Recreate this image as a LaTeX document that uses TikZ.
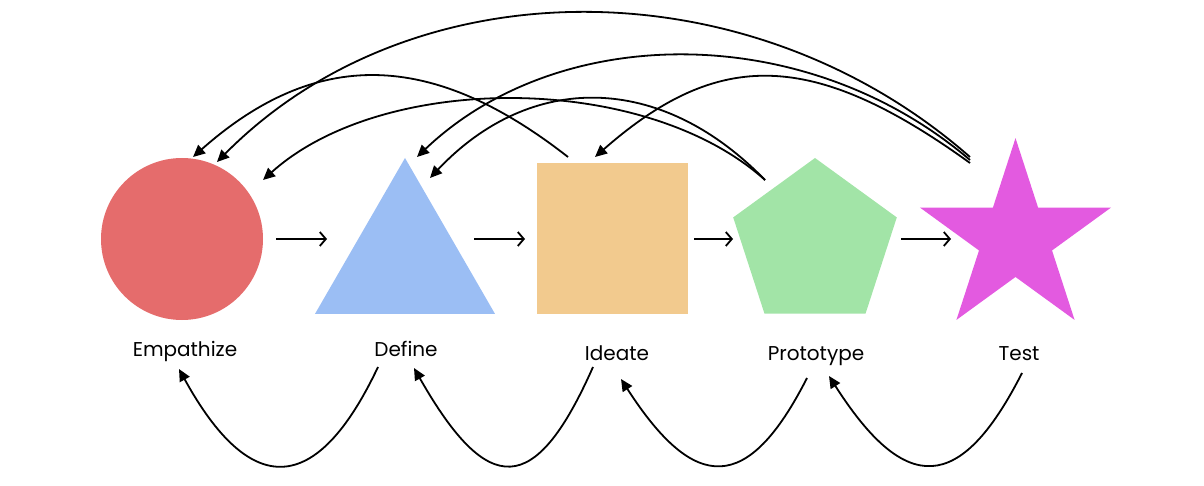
\documentclass[tikz,border=0pt]{standalone}
\usepackage{fontspec}
\setmainfont{Poppins}
\usetikzlibrary{arrows.meta,shapes.geometric}
\definecolor{cEmp}{HTML}{E56C6C}
\definecolor{cDef}{HTML}{9BBEF4}
\definecolor{cIde}{HTML}{F2CA8E}
\definecolor{cPro}{HTML}{A2E4A7}
\definecolor{cTst}{HTML}{E35AE0}
\begin{document}
\begin{tikzpicture}[x=1pt,y=-1pt,
  shapebox/.style={inner sep=0pt,outer sep=0pt,draw=none},
  lbl/.style={font=\fontsize{20}{24}\selectfont,anchor=base,inner sep=0pt},
  back/.style={line width=1.8pt,-{Triangle[length=12pt,width=11pt]}},
  fwd/.style={line width=1.8pt,-{Straight Barb[length=6pt,width=14pt]}}]
\useasboundingbox (0,0) rectangle (1204,486);
% shapes
\node[shapebox,circle,fill=cEmp,minimum size=162pt] (emp) at (182,239) {};
\node[shapebox,regular polygon,regular polygon sides=3,fill=cDef,minimum size=207.8pt] (def) at (405,261.9) {};
\node[shapebox,rectangle,fill=cIde,minimum width=151pt,minimum height=151pt] (ide) at (612.5,238.5) {};
\node[shapebox,regular polygon,regular polygon sides=5,fill=cPro,minimum size=172pt] (pro) at (815,244) {};
\node[shapebox,star,star points=5,star point ratio=2.618,fill=cTst,minimum size=201pt] (tst) at (1015.5,238.6) {};
% labels
\node[lbl] (lemp) at (185,356) {Empathize};
\node[lbl] (ldef) at (406,356) {Define};
\node[lbl] (lide) at (617,360) {Ideate};
\node[lbl] (lpro) at (816,360) {Prototype};
\node[lbl] (ltst) at (1019,360) {Test};
% forward arrow ends
\coordinate (f1a) at (276,239); \coordinate (f1b) at (327,239);
\coordinate (f2a) at (474,239); \coordinate (f2b) at (525,239);
\coordinate (f3a) at (694,239); \coordinate (f3b) at (733,239);
\coordinate (f4a) at (901,239); \coordinate (f4b) at (951,239);
\draw[fwd] (f1a) -- (f1b);
\draw[fwd] (f2a) -- (f2b);
\draw[fwd] (f3a) -- (f3b);
\draw[fwd] (f4a) -- (f4b);
% top arc ends
\coordinate (eA) at (193,157);
\coordinate (eB) at (217,162);
\coordinate (eC) at (263,180);
\coordinate (dA) at (417,157);
\coordinate (dB) at (430,178);
\coordinate (iA) at (595,157);
\coordinate (iS) at (568,157);
\coordinate (pS) at (765,180);
\coordinate (tS1) at (970,157);
\coordinate (tS2) at (970,160);
\coordinate (tS3) at (970,163);
\draw[back] (iS) .. controls (430,49) and (315,49) .. (eA);
\draw[back] (tS1) .. controls (750,-36) and (413,-36) .. (eB);
\draw[back] (pS) .. controls (645,72) and (383,72) .. (eC);
\draw[back] (tS2) .. controls (807,21) and (560,21) .. (dA);
\draw[back] (pS) .. controls (660,72) and (530,72) .. (dB);
\draw[back] (tS3) .. controls (812,49) and (718,49) .. (iA);
% bottom arc ends
\coordinate (bD) at (378,367); \coordinate (bE) at (179,369);
\coordinate (bI) at (593,367); \coordinate (bDe) at (414,368);
\coordinate (bP) at (807,378); \coordinate (bIe) at (621,379);
\coordinate (bT) at (1022,373); \coordinate (bPe) at (829,376);
\draw[back] (bD) .. controls (316,498) and (250,498) .. (bE);
\draw[back] (bI) .. controls (535,498) and (488,498) .. (bDe);
\draw[back] (bP) .. controls (748,494) and (695,494) .. (bIe);
\draw[back] (bT) .. controls (960,495) and (905,495) .. (bPe);
\end{tikzpicture}
\end{document}
